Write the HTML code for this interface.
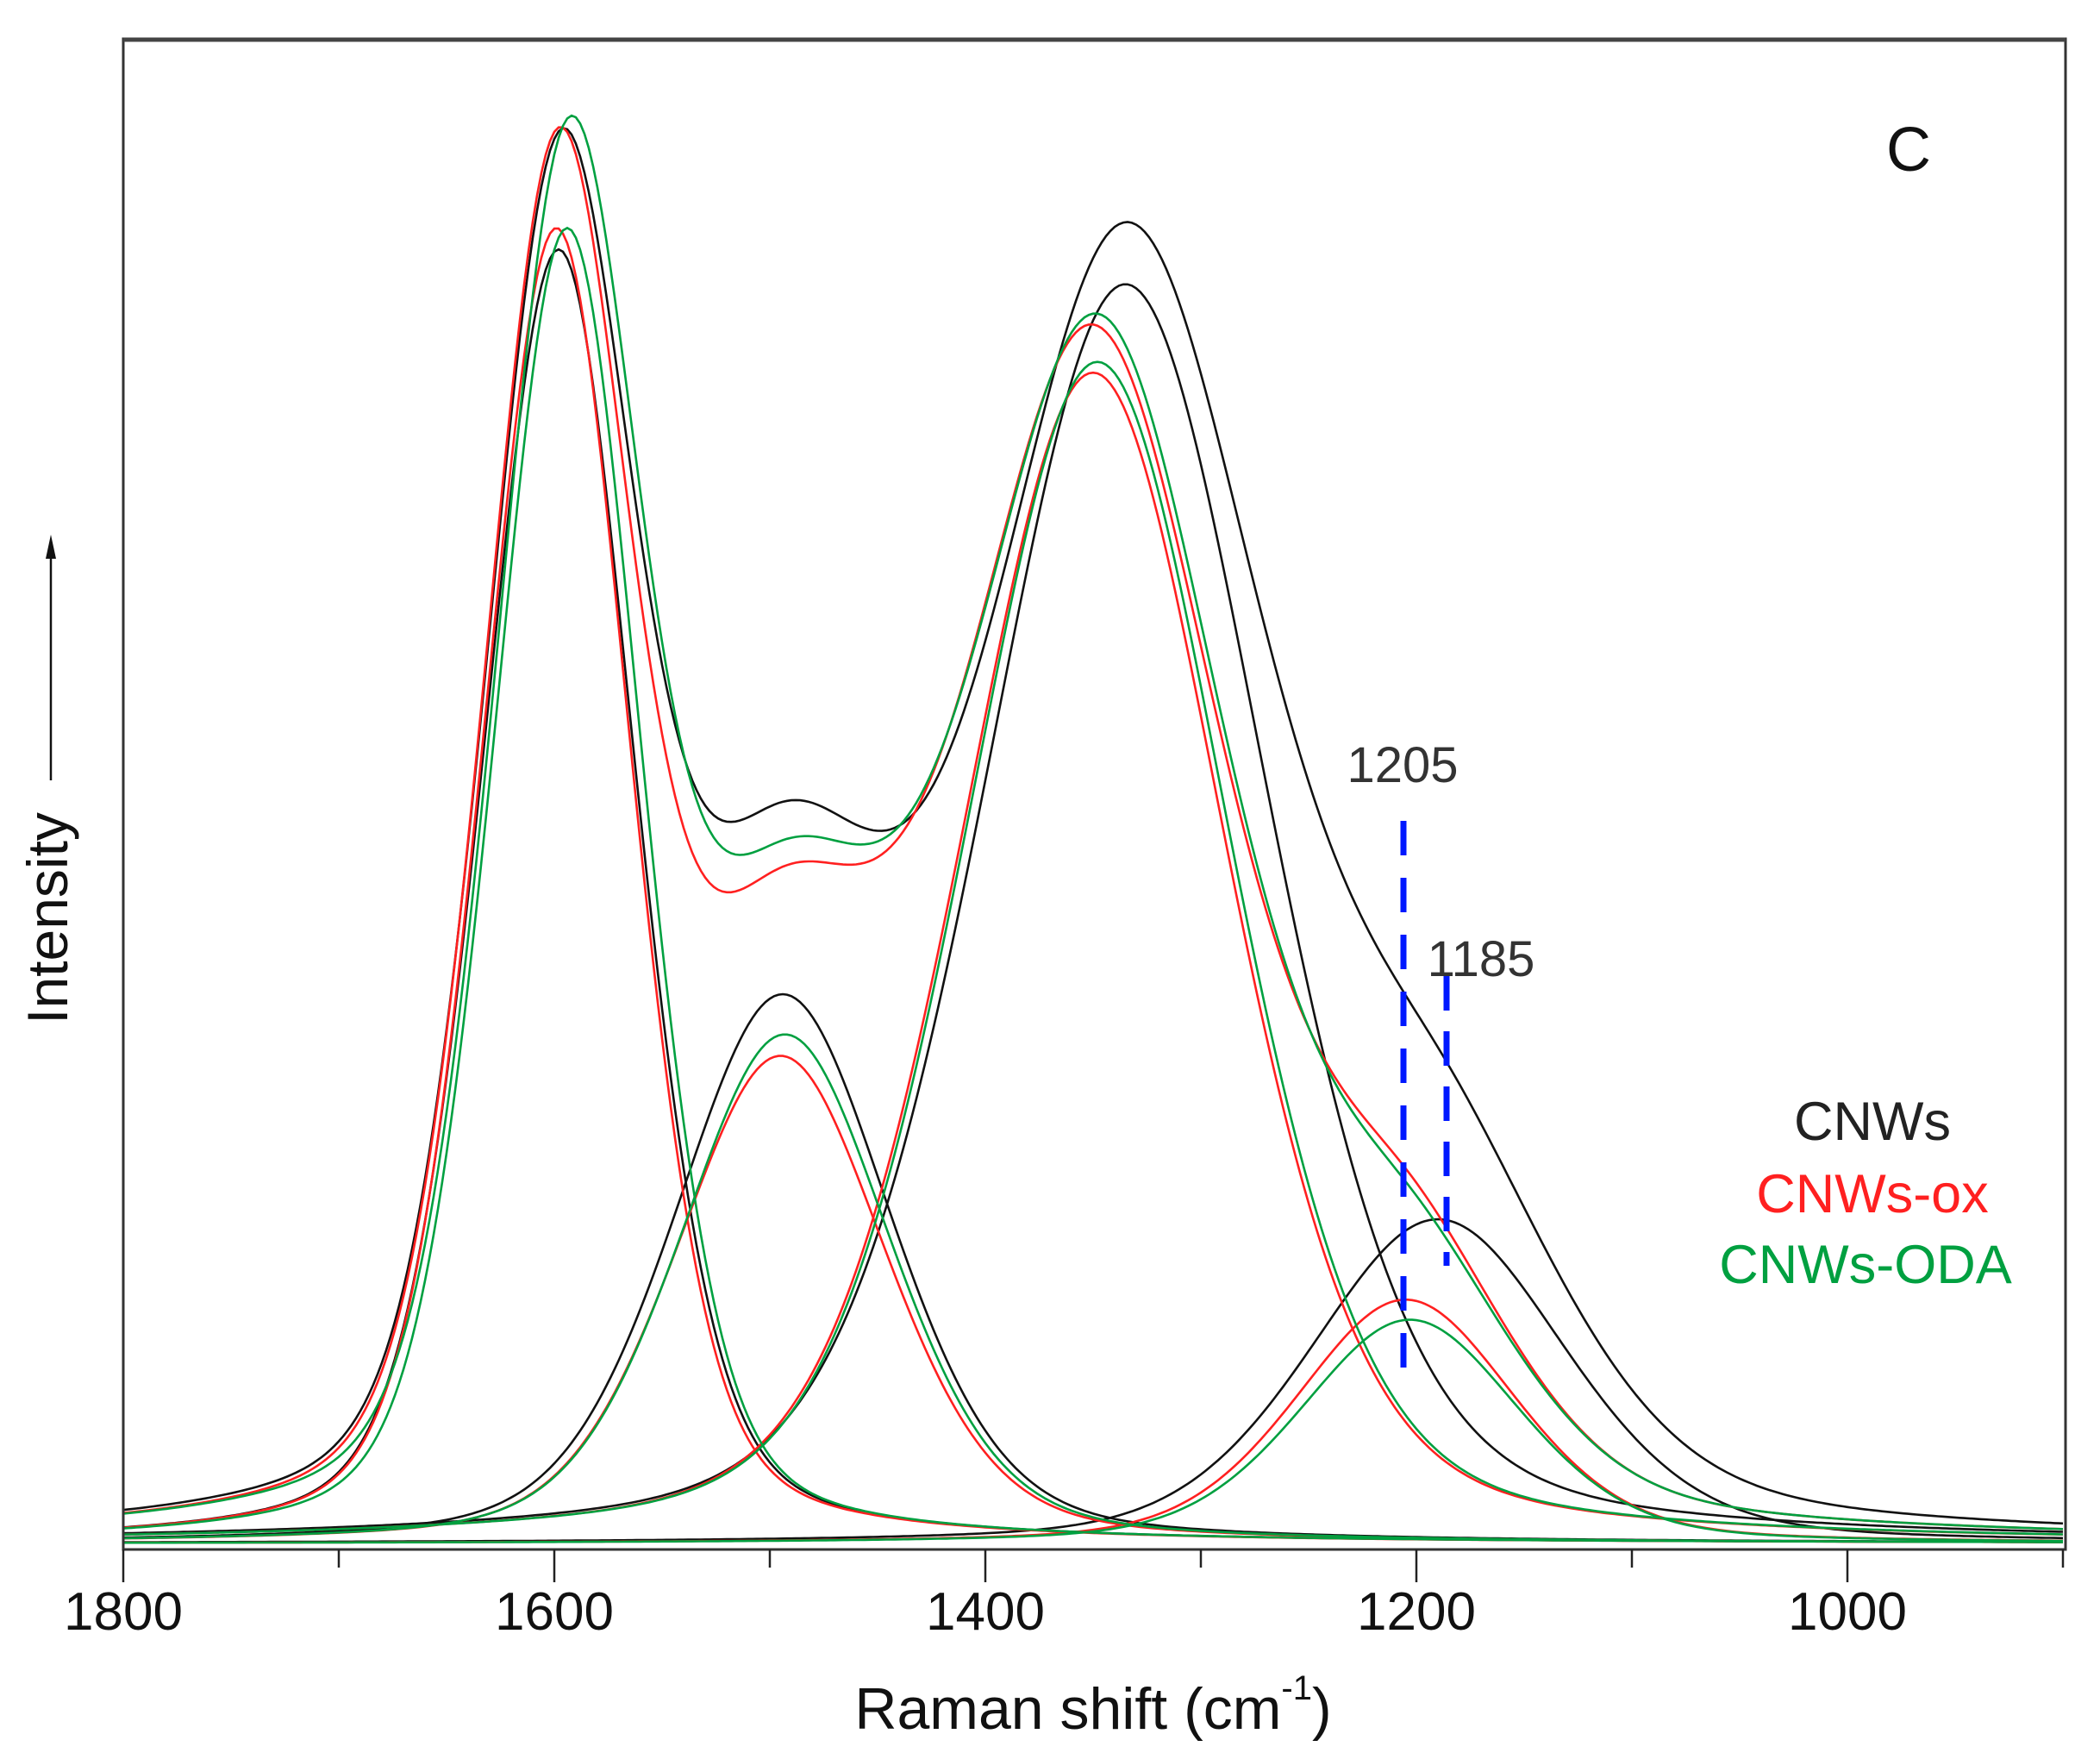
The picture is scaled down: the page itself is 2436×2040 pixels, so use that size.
<!DOCTYPE html>
<html><head><meta charset="utf-8"><style>
html,body{margin:0;padding:0;background:#fff}
svg{display:block}
text{font-family:"Liberation Sans",Arial,sans-serif}
</style></head><body>
<svg id="s" width="2436" height="2040" viewBox="0 0 2436 2040" xmlns="http://www.w3.org/2000/svg">
<rect width="2436" height="2040" fill="#fff"/>
<g id="curves" fill="none" stroke-width="2.6"></g>
<rect x="143" y="45" width="2253" height="1752" fill="none" stroke="#333" stroke-width="3"/>
<line x1="143" y1="46" x2="2396" y2="46" stroke="#444" stroke-width="5"/>
<g id="ticks" stroke="#222" stroke-width="2.5"></g>
<g font-size="62" fill="#111" text-anchor="middle">
<text x="143" y="1890">1800</text>
<text x="643" y="1890">1600</text>
<text x="1143" y="1890">1400</text>
<text x="1643" y="1890">1200</text>
<text x="2143" y="1890">1000</text>
</g>
<text x="1268" y="2005" font-size="68" fill="#111" text-anchor="middle">Raman shift (cm<tspan font-size="40" dy="-34">-1</tspan><tspan dy="34">)</tspan></text>
<text transform="translate(78,1065) rotate(-90)" font-size="66" fill="#111" text-anchor="middle">Intensity</text>
<line x1="59" y1="905" x2="59" y2="640" stroke="#111" stroke-width="2.5"/>
<polygon points="59,620 53,648 65,648" fill="#111"/>
<text x="2214" y="198" font-size="72" fill="#111" text-anchor="middle">C</text>
<line x1="1628" y1="952" x2="1628" y2="1600" stroke="#0018ff" stroke-width="7" stroke-dasharray="40,26"/>
<line x1="1678" y1="1132" x2="1678" y2="1468" stroke="#0018ff" stroke-width="7" stroke-dasharray="40,24"/>
<text x="1627" y="907" font-size="58" fill="#333" text-anchor="middle">1205</text>
<text x="1718" y="1132" font-size="58" fill="#333" text-anchor="middle">1185</text>
<g font-size="63" text-anchor="middle">
<text x="2172" y="1322" fill="#222">CNWs</text>
<text x="2172" y="1406" fill="#ff2020">CNWs-ox</text>
<text x="2164" y="1488" fill="#00a040">CNWs-ODA</text>
</g>
</svg>
<script>
(function(){
var NS="http://www.w3.org/2000/svg";
var g=document.getElementById("curves"),tk=document.getElementById("ticks");
function X(w){return 143+(1800-w)*2.5;}
var S=1.5536, base=1790;
for(var w=1800;w>=900;w-=100){var l=document.createElementNS(NS,"line");var x=X(w);
l.setAttribute("x1",x);l.setAttribute("x2",x);l.setAttribute("y1",1797);l.setAttribute("y2",(w%200==0)?1835:1818);tk.appendChild(l);}
function pv(w,c,h,f,eta){var d=(w-c)/(f/2);return h*S*(eta/(1+d*d)+(1-eta)*Math.exp(-Math.LN2*d*d));}
var sets=[
 {col:"#111",pk:[[1598,966,84],[1335,940,155],[1494,410,118],[1190,242,140]]},
 {col:"#ff2020",pk:[[1599,982,82],[1350,874,145],[1495,364,115],[1205,182,120]]},
 {col:"#00a040",pk:[[1594,982,82],[1348,882,145],[1493,380,115],[1203,167,120]]}
];
var eta=0.3;
function path(fn,col){var d="";for(var w=1800;w>=899;w-=2){var y=base-fn(w);d+=(d?"L":"M")+X(w).toFixed(1)+","+y.toFixed(1);}
var p=document.createElementNS(NS,"path");p.setAttribute("d",d);p.setAttribute("stroke",col);g.appendChild(p);}
sets.forEach(function(s){
 s.pk.forEach(function(p){path(function(w){return pv(w,p[0],p[1],p[2],eta);},s.col);});
 path(function(w){var t=0;s.pk.forEach(function(p){t+=pv(w,p[0],p[1],p[2],eta);});return t;},s.col);
});
})();
</script>
</body></html>
